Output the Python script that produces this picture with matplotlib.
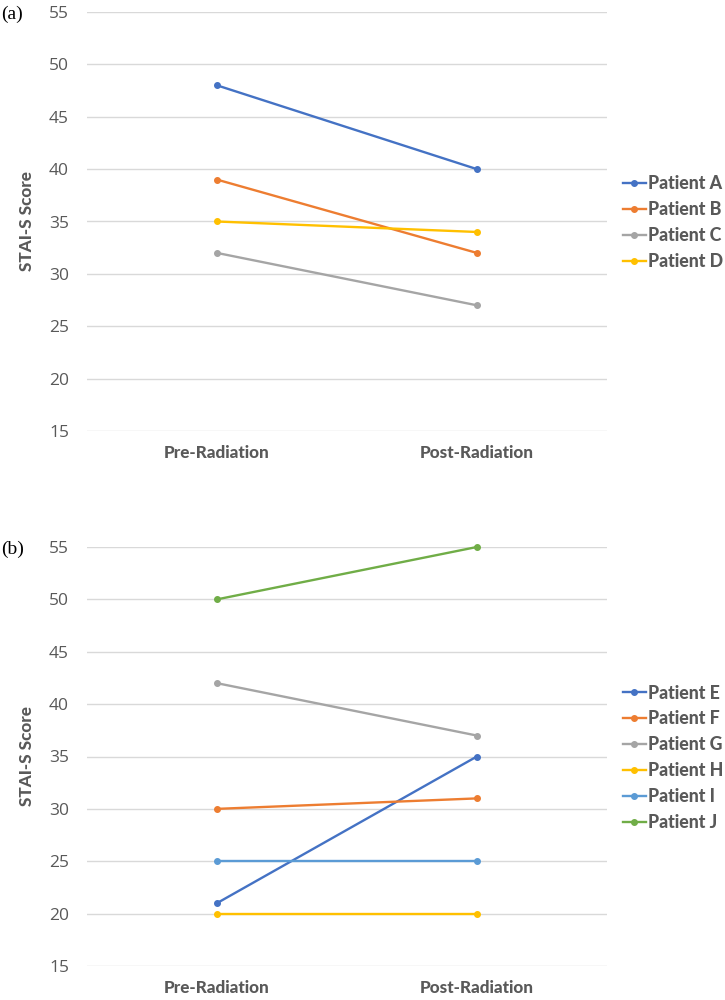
import matplotlib
matplotlib.use("Agg")
import matplotlib.pyplot as plt

categories = ["Pre-Radiation", "Post-Radiation"]

patients_a = ["Patient A", "Patient B", "Patient C", "Patient D"]
values_a = [[48, 40], [39, 32], [32, 27], [35, 34]]
colors_a = ["#4472C4", "#ED7D31", "#A5A5A5", "#FFC000"]

patients_b = ["Patient E", "Patient F", "Patient G", "Patient H", "Patient I", "Patient J"]
values_b = [[21, 35], [30, 31], [42, 37], [20, 20], [25, 25], [50, 55]]
colors_b = ["#4472C4", "#ED7D31", "#A5A5A5", "#FFC000", "#5B9BD5", "#70AD47"]

yticks = [15, 20, 25, 30, 35, 40, 45, 50, 55]

fig = plt.figure(figsize=(7.25, 10), dpi=100)
text_color = "#595959"
bold_font = "Lato"
bw = 900


def draw(ax, names, vals, cols):
    x = list(range(len(categories)))
    for n, v, c in zip(names, vals, cols):
        ax.plot(x, v, color=c, lw=1.7, marker="o", ms=4, label=n, zorder=3, clip_on=False)
    ax.set_xlim(-0.5, 1.5)
    ax.set_ylim(15, 55)
    ax.set_yticks(yticks)
    ax.set_xticks(x)
    ax.set_xticklabels(categories, fontsize=12.3, fontweight=bw, color=text_color, family=bold_font)
    ax.tick_params(axis="x", length=0, pad=10)
    ax.tick_params(axis="y", length=0, pad=13, labelsize=12.5, labelcolor=text_color)
    for lab in ax.get_yticklabels():
        lab.set_family("Open Sans")
    ax.grid(axis="y", color="#D9D9D9", lw=1)
    ax.set_axisbelow(True)
    for s in ax.spines.values():
        s.set_visible(False)
    ax.set_ylabel("STAI-S Score", fontsize=12.3, fontweight=bw, color=text_color, family=bold_font, labelpad=10)
    leg = ax.legend(loc="center left", bbox_to_anchor=(1.0, 0.497), frameon=False,
                    handlelength=1.3, handletextpad=0.1, labelspacing=0.5, borderaxespad=0.5,
                    prop={"family": bold_font, "weight": bw, "size": 12.8})
    for t in leg.get_texts():
        t.set_color(text_color)


ax1 = fig.add_axes([0.12, 0.569, 0.717, 0.419])
draw(ax1, patients_a, values_a, colors_a)
ax2 = fig.add_axes([0.12, 0.034, 0.717, 0.419])
draw(ax2, patients_b, values_b, colors_b)

fig.text(0.002, 0.986, "(a)", family="Liberation Serif", fontsize=14, va="center", ha="left")
fig.text(0.002, 0.451, "(b)", family="Liberation Serif", fontsize=14, va="center", ha="left")

fig.savefig("out.png", dpi=100)
